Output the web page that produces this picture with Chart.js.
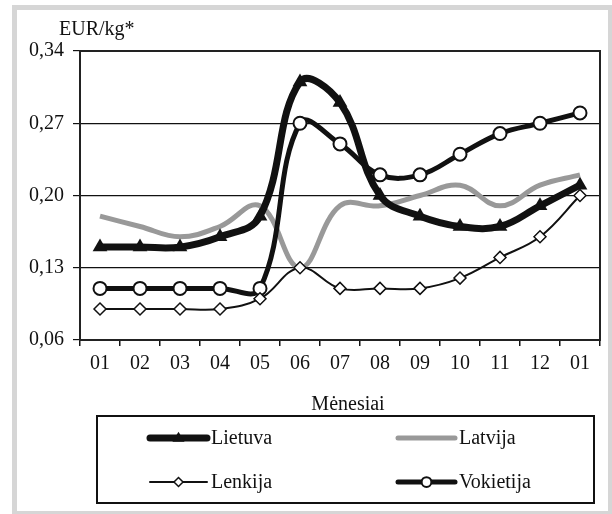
<!DOCTYPE html>
<html>
<head>
<meta charset="utf-8">
<script src="https://cdn.jsdelivr.net/npm/chart.js@4.4.1/dist/chart.umd.min.js"></script>
<style>
  html, body { margin: 0; padding: 0; background: #fff; }
  #wrap { position: relative; width: 612px; height: 514px; overflow: hidden; }
  #frame { position: absolute; left: 12px; top: 5px; width: 600px; height: 509px; box-sizing: border-box;
           border-style: solid; border-color: #d6d6d6; border-width: 5px 4px 3px 5px; }
  canvas { position: absolute; left: 0; top: 0; }
</style>
</head>
<body>
<div id="wrap">
  <div id="frame"></div>
  <canvas id="c" width="612" height="514"></canvas>
</div>
<script>
const categories = ['01','02','03','04','05','06','07','08','09','10','11','12','01'];
const lietuva   = [0.15,0.15,0.15,0.16,0.18,0.31,0.29,0.20,0.18,0.17,0.17,0.19,0.21];
const latvija   = [0.18,0.17,0.16,0.17,0.19,0.13,0.19,0.19,0.20,0.21,0.19,0.21,0.22];
const lenkija   = [0.09,0.09,0.09,0.09,0.10,0.13,0.11,0.11,0.11,0.12,0.14,0.16,0.20];
const vokietija = [0.11,0.11,0.11,0.11,0.11,0.27,0.25,0.22,0.22,0.24,0.26,0.27,0.28];
const seriesNames = ['Lietuva','Latvija','Lenkija','Vokietija'];
const yTickValues = [0.06,0.13,0.20,0.27,0.34];
const yTickLabels = ['0,06','0,13','0,20','0,27','0,34'];
const yAxisTitle = 'EUR/kg*';
const xAxisTitle = 'Mėnesiai';

const FONT = '"Liberation Serif", "Times New Roman", serif';

function drawMarker(ctx, style, x, y, r, fill, stroke, bw) {
  ctx.save();
  ctx.beginPath();
  if (style === 'circle') {
    ctx.arc(x, y, r, 0, Math.PI * 2);
  } else if (style === 'triangle') {
    ctx.moveTo(x, y - r);
    ctx.lineTo(x + r * 0.95, y + r * 0.6);
    ctx.lineTo(x - r * 0.95, y + r * 0.6);
    ctx.closePath();
  } else if (style === 'rectRot') {
    ctx.moveTo(x, y - r); ctx.lineTo(x + r, y); ctx.lineTo(x, y + r); ctx.lineTo(x - r, y); ctx.closePath();
  }
  ctx.fillStyle = fill; ctx.fill();
  if (bw > 0) { ctx.lineWidth = bw; ctx.strokeStyle = stroke; ctx.stroke(); }
  ctx.restore();
}

const extrasPlugin = {
  id: 'extras',
  beforeDatasetsDraw(chart) {
    const { ctx, chartArea: a } = chart;
    ctx.save();
    ctx.lineWidth = 2;
    ctx.strokeStyle = '#222';
    ctx.strokeRect(a.left, a.top, a.right - a.left, a.bottom - a.top);
    ctx.restore();
  },
  afterDraw(chart) {
    const { ctx, chartArea: a } = chart;
    ctx.save();
    ctx.fillStyle = '#111';
    ctx.font = '20px ' + FONT;
    ctx.textBaseline = 'alphabetic';
    ctx.textAlign = 'left';
    ctx.fillText(yAxisTitle, a.left - 21, a.top - 16);
    ctx.textAlign = 'center';
    ctx.fillText(xAxisTitle, (a.left + a.right) / 2 + 8, a.bottom + 70);

    // legend box
    const bx = a.left + 17, by = a.bottom + 76, bw = a.right - a.left - 23, bh = 87;
    ctx.lineWidth = 2;
    ctx.strokeStyle = '#111';
    ctx.strokeRect(bx, by, bw, bh);
    const cols = [bx + 53, bx + 301];
    const rows = [by + 22, by + 66];
    chart.data.datasets.forEach((ds, i) => {
      const x1 = cols[i % 2], x2 = x1 + 57, y = rows[Math.floor(i / 2)];
      ctx.save();
      ctx.beginPath();
      ctx.lineCap = 'round';
      ctx.lineWidth = ds.borderWidth;
      ctx.strokeStyle = ds.borderColor;
      ctx.moveTo(x1, y); ctx.lineTo(x2, y); ctx.stroke();
      ctx.restore();
      if (ds.pointRadius > 0) {
        drawMarker(ctx, ds.pointStyle, (x1 + x2) / 2, y, ds.pointRadius * 0.75,
                   ds.pointBackgroundColor, ds.pointBorderColor, ds.pointBorderWidth);
      }
      ctx.fillStyle = '#111';
      ctx.font = '20px ' + FONT;
      ctx.textAlign = 'left';
      ctx.textBaseline = 'middle';
      ctx.fillText(ds.label, x2 + 4, y + 1);
    });
    ctx.restore();
  }
};

new Chart(document.getElementById('c'), {
  type: 'line',
  data: {
    labels: categories,
    datasets: [
      { label: seriesNames[0], data: lietuva, borderColor: '#111', borderWidth: 7, tension: 0.4,
        pointStyle: 'triangle', pointRadius: 8.5, pointBackgroundColor: '#111', pointBorderColor: '#111', pointBorderWidth: 0, order: 3 },
      { label: seriesNames[1], data: latvija, borderColor: '#999', borderWidth: 5, tension: 0.4,
        pointStyle: 'circle', pointRadius: 0, pointBackgroundColor: '#999', pointBorderColor: '#999', pointBorderWidth: 0, order: 4 },
      { label: seriesNames[2], data: lenkija, borderColor: '#111', borderWidth: 2, tension: 0.4,
        pointStyle: 'rectRot', pointRadius: 6, pointBackgroundColor: '#fff', pointBorderColor: '#111', pointBorderWidth: 1.5, order: 1 },
      { label: seriesNames[3], data: vokietija, borderColor: '#111', borderWidth: 5, tension: 0.4,
        pointStyle: 'circle', pointRadius: 6.5, pointBackgroundColor: '#fff', pointBorderColor: '#111', pointBorderWidth: 2, order: 2 }
    ]
  },
  options: {
    responsive: false,
    animation: false,
    devicePixelRatio: 1,
    layout: { padding: { left: 0, right: 12, top: 51, bottom: 0 } },
    plugins: { legend: { display: false }, tooltip: { enabled: false } },
    elements: { line: { capBezierPoints: false, borderJoinStyle: 'round' } },
    scales: {
      x: {
        offset: true,
        grid: { offset: true, drawOnChartArea: false, drawTicks: true, tickLength: 6, color: '#111', lineWidth: 1.5 },
        border: { display: true, color: '#111', width: 2 },
        ticks: { color: '#111', font: { family: FONT, size: 20 }, padding: 6, maxRotation: 0, autoSkip: false },
        afterFit(s) { s.height = 174; }
      },
      y: {
        min: yTickValues[0],
        max: yTickValues[yTickValues.length - 1],
        afterBuildTicks(s) { s.ticks = yTickValues.map(v => ({ value: v })); },
        grid: { color: '#111', lineWidth: 1.2, tickLength: 7, drawTicks: true },
        border: { display: true, color: '#111', width: 2 },
        ticks: { color: '#111', font: { family: FONT, size: 20 }, padding: 9,
                 callback: (v, i) => yTickLabels[i] },
        afterFit(s) { s.width = 80; }
      }
    }
  },
  plugins: [extrasPlugin]
});
</script>
</body>
</html>
